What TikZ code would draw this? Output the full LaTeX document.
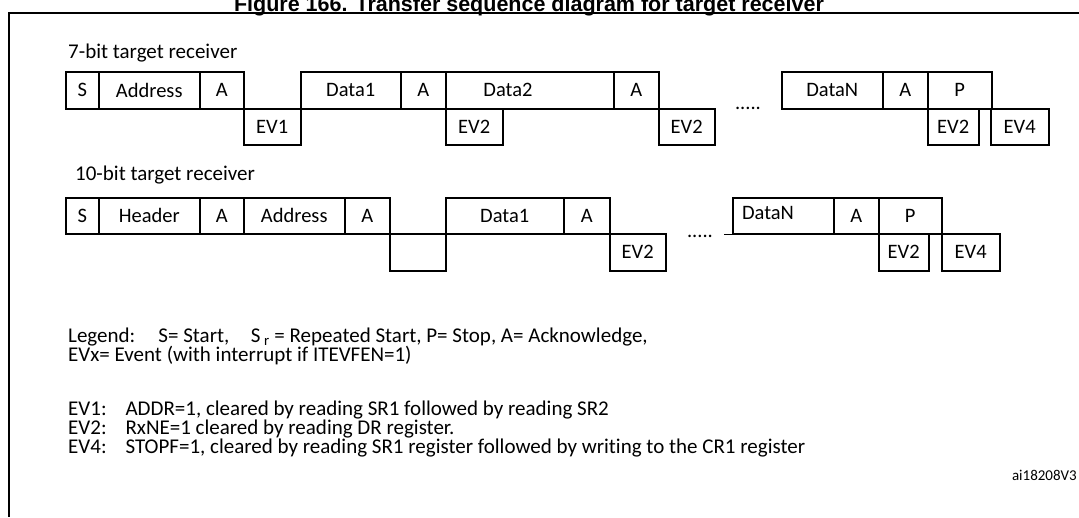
\documentclass[tikz,border=0pt]{standalone}
\usepackage{fontspec}
\setmainfont{Carlito}[Ligatures={NoCommon}]
\newfontfamily\titlefont{Liberation Sans}
\begin{document}
\begin{tikzpicture}[x=1pt,y=-1pt,
  box/.style={draw,line width=1.5pt,inner sep=0pt,font=\fontsize{20.5}{22}\selectfont},
  lab/.style={font=\fontsize{20.5}{22}\selectfont,inner sep=0pt},
  txt/.style={font=\fontsize{21}{22}\selectfont,inner sep=0pt,anchor=base west}]
\useasboundingbox (0,0) rectangle (1079,517);
\newcommand\bx[6]{\node[box,anchor=north west,minimum width=#3pt-#2pt,minimum height=#5pt-#4pt] (#1) at (#2,#4) {#6};}
% title and frame
\begin{scope}
\clip (0,0) rectangle (1079,517);
\node[font=\titlefont\bfseries\fontsize{21.5}{23}\selectfont,inner sep=0pt,anchor=base] (title) at (529,11) {Figure 166. Transfer sequence diagram for target receiver};
\end{scope}
\coordinate (ftr) at (1079,13);
\coordinate (ftl) at (9,13);
\coordinate (fbl) at (9,517);
\draw[line width=1.5pt] (ftr) -- (ftl) -- (fbl);
% row 1
\node[txt] (t7) at (68,58) {7-bit target receiver};
\bx{a1}{65}{98}{71}{108}{S}
\bx{a2}{98}{199}{71}{108}{Address}
\bx{a3}{199}{243}{71}{108}{A}
\bx{a4}{243}{300}{108}{144}{EV1}
\bx{a5}{300}{400}{71}{108}{Data1}
\bx{a6}{400}{445}{71}{108}{A}
\bx{a7}{445}{613}{71}{108}{}
\node[lab] (a7t) at (508,89.5) {Data2};
\bx{a8}{445}{502}{108}{144}{EV2}
\bx{a9}{613}{658}{71}{108}{A}
\bx{a10}{658}{714}{108}{144}{EV2}
\node[lab] (d1) at (748,108) {.....};
\bx{a11}{781}{882}{71}{108}{DataN}
\bx{a12}{882}{927}{71}{108}{A}
\bx{a13}{927}{991}{71}{108}{P}
\bx{a14}{927}{978}{108}{144}{EV2}
\bx{a15}{990}{1048}{108}{144}{EV4}
% row 2
\node[txt] (t10) at (75,180) {10-bit target receiver};
\bx{b1}{65}{98}{197}{233}{S}
\bx{b2}{98}{199}{197}{233}{Header}
\bx{b3}{199}{243}{197}{233}{A}
\bx{b4}{243}{344}{197}{233}{Address}
\bx{b5}{344}{389}{197}{233}{A}
\bx{b6}{389}{445}{233}{270}{}
\bx{b7}{445}{563}{197}{233}{Data1}
\bx{b8}{563}{609}{197}{233}{A}
\bx{b9}{609}{665}{233}{270}{EV2}
\node[lab] (d2) at (700,236) {.....};
\bx{b10}{732}{833}{197}{233}{}
\node[lab] (b10t) at (768,213) {DataN};
\draw[line width=1.5pt] (b10.south west) -- ++(-8,0);
\bx{b11}{833}{878}{197}{233}{A}
\bx{b12}{878}{941}{197}{233}{P}
\bx{b13}{878}{928}{233}{270}{EV2}
\bx{b14}{941}{999}{233}{270}{EV4}
% legend
\node[txt] (l1) at (68,342) {Legend:\hspace{0.8em} S= Start,\hspace{0.8em} S\,$_{\mathrm{r}}$ = Repeated Start, P= Stop, A= Acknowledge,};
\node[txt] (l2) at (68,361) {EVx= Event (with interrupt if ITEVFEN=1)};
\node[txt] (e1) at (68,415) {EV1:\hspace{0.6em} ADDR=1, cleared by reading SR1 followed by reading SR2};
\node[txt] (e2) at (68,434) {EV2:\hspace{0.6em} RxNE=1 cleared by reading DR register.};
\node[txt] (e4) at (68,453) {EV4:\hspace{0.6em} STOPF=1, cleared by reading SR1 register followed by writing to the CR1 register};
\node[font=\fontsize{15}{17}\selectfont,inner sep=0pt,anchor=base east] (id) at (1077,480) {ai18208V3};
\end{tikzpicture}
\end{document}
